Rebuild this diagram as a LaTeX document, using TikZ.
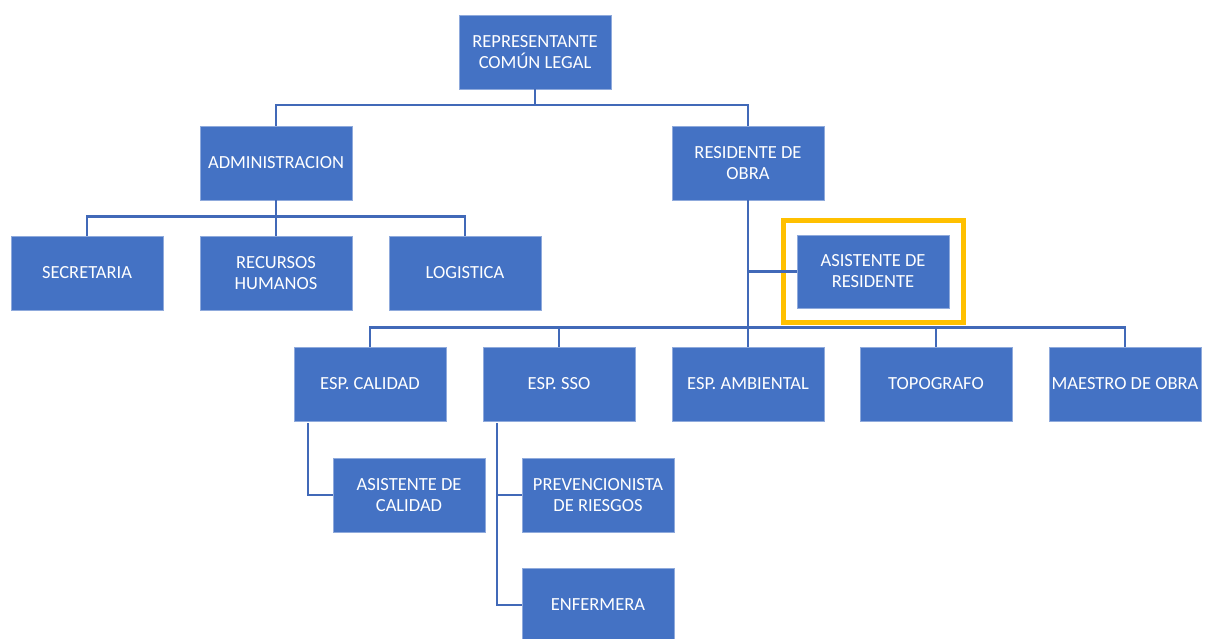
\documentclass[tikz,border=0pt]{standalone}
\usepackage{fontspec}
\setmainfont{Carlito}
\usetikzlibrary{calc}
\definecolor{boxblue}{HTML}{4472C4}
\definecolor{lineblue}{HTML}{4169B8}
\definecolor{gold}{HTML}{FFC000}
\tikzset{
  orgbox/.style={rectangle, fill=boxblue, draw=boxblue!60!white, line width=0.6pt,
    minimum width=152pt, minimum height=74pt, align=center,
    text=white, font=\fontsize{18.5}{21}\selectfont, inner sep=0pt},
  conn/.style={draw=lineblue, line width=2.4pt},
  highlight/.style={draw=gold, line width=5pt}
}
\begin{document}
\begin{tikzpicture}[x={(1pt,0)}, y={(0,-1pt)}]
\useasboundingbox (0,0) rectangle (1206,639);
\begin{scope}
\clip (0,0) rectangle (1206,639);
\node[orgbox] (rep) at (535,52) {REPRESENTANTE\\COMÚN LEGAL};
\node[orgbox] (adm) at (276,163) {ADMINISTRACION};
\node[orgbox] (res) at (748,163) {RESIDENTE DE\\OBRA};
\node[orgbox] (sec) at (87,273) {SECRETARIA};
\node[orgbox] (rrhh) at (276,273) {RECURSOS\\HUMANOS};
\node[orgbox] (log) at (465,273) {LOGISTICA};
\node[orgbox, minimum height=73pt] (asr) at (873,271.5) {ASISTENTE DE\\RESIDENTE};
\node[highlight, rectangle, minimum width=180pt, minimum height=102pt, inner sep=0pt] (frame) at (873,271) {};
\node[orgbox] (cal) at (370,384) {ESP. CALIDAD};
\node[orgbox] (sso) at (559,384) {ESP. SSO};
\node[orgbox] (amb) at (748,384) {ESP. AMBIENTAL};
\node[orgbox] (top) at (936,384) {TOPOGRAFO};
\node[orgbox] (mae) at (1125,384) {MAESTRO DE OBRA};
\node[orgbox] (asc) at (409,495) {ASISTENTE DE\\CALIDAD};
\node[orgbox] (prev) at (598,495) {PREVENCIONISTA\\DE RIESGOS};
\node[orgbox] (enf) at (598,605) {ENFERMERA};

\draw[conn] (rep.south) -- ++(0,16) coordinate (j1) -| (adm.north);
\draw[conn] (j1) -| (res.north);
\draw[conn] (adm.south) -- ++(0,16) coordinate (j2) -| (sec.north);
\draw[conn] (j2) -| (log.north);
\draw[conn] (j2) -- (rrhh.north);
\draw[conn] (res.south) -- ++(0,127) coordinate (j3) -| (cal.north);
\draw[conn] (j3) -| (mae.north);
\draw[conn] (j3) -| (sso.north);
\draw[conn] (j3) -| (top.north);
\draw[conn] (j3) -- (amb.north);
\draw[conn] (res.south |- asr.west) -- (asr.west);
\coordinate (c1) at ($(cal.south west)+(14,2)$);
\draw[conn] (c1) |- (asc.west);
\coordinate (c2) at ($(sso.south west)+(14,2)$);
\draw[conn] (c2) |- (enf.west);
\draw[conn] (c2 |- prev.west) -- (prev.west);
\end{scope}
\end{tikzpicture}
\end{document}
